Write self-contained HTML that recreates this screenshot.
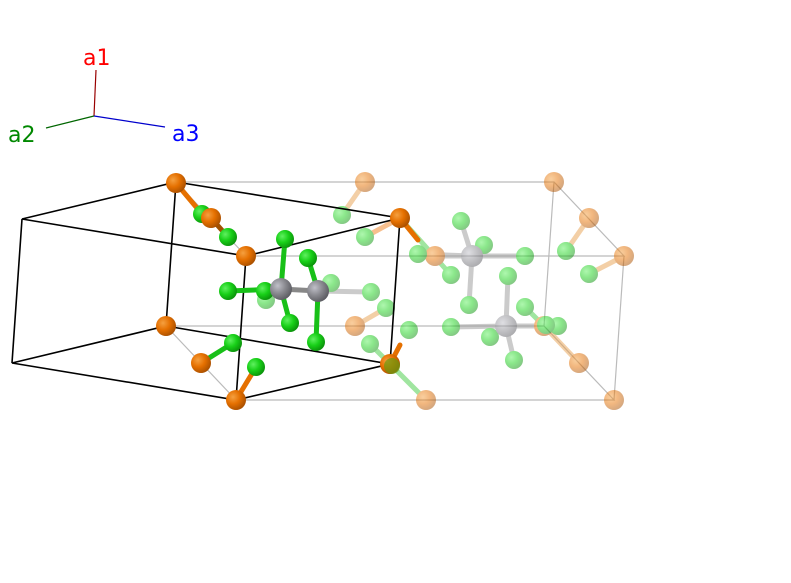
<!DOCTYPE html>
<html><head><style>html,body{margin:0;padding:0;background:#fff;width:791px;height:583px;overflow:hidden}</style></head>
<body>
<svg width="791" height="583" xmlns="http://www.w3.org/2000/svg">
<defs>
<radialGradient id="o" cx="35%" cy="35%" r="70%"><stop offset="0" stop-color="#f5a040"/><stop offset=".5" stop-color="#e57000"/><stop offset="1" stop-color="#a84f00"/></radialGradient>
<radialGradient id="g" cx="35%" cy="35%" r="70%"><stop offset="0" stop-color="#60f060"/><stop offset=".5" stop-color="#18d018"/><stop offset="1" stop-color="#0a900a"/></radialGradient>
<radialGradient id="k" cx="35%" cy="35%" r="70%"><stop offset="0" stop-color="#c0c0c8"/><stop offset=".5" stop-color="#8a8a90"/><stop offset="1" stop-color="#5a5a60"/></radialGradient>
</defs>
<line x1="94" y1="116" x2="96" y2="70" stroke="#900" stroke-width="1.2"/>
<line x1="94" y1="116" x2="46" y2="128" stroke="#060" stroke-width="1.2"/>
<line x1="94" y1="116" x2="165" y2="127" stroke="#00c" stroke-width="1.2"/>
<g font-family="DejaVu Sans, Liberation Sans, sans-serif" font-size="22">
<text x="83" y="65" fill="#f00">a1</text>
<text x="8" y="142" fill="#080">a2</text>
<text x="172" y="141" fill="#00f">a3</text>
</g>
<g stroke="#bbb" stroke-width="1.2" fill="none">
<path d="M176,182 L554,182 L624,256 L246,256 M166,326 L544,326 L614,400 L236,400 M554,182 L544,326 M624,256 L614,400 M176,182 L246,256 M166,326 L236,400"/>
</g>
<g opacity="0.5">
<g stroke-width="5" stroke-linecap="round">
<line x1="365" y1="182" x2="342" y2="215" stroke="#e8a050"/>
<line x1="400" y1="218" x2="365" y2="237" stroke="#f08020"/>
<line x1="589" y1="218" x2="566" y2="251" stroke="#e8a050"/>
<line x1="624" y1="256" x2="589" y2="274" stroke="#e8a050"/>
<line x1="355" y1="326" x2="386" y2="308" stroke="#e8a050"/>
<line x1="472" y1="256" x2="418" y2="254" stroke="#999"/>
<line x1="472" y1="256" x2="525" y2="256" stroke="#999"/>
<line x1="472" y1="256" x2="461" y2="221" stroke="#999"/>
<line x1="472" y1="256" x2="484" y2="245" stroke="#999"/>
<line x1="472" y1="256" x2="469" y2="305" stroke="#999"/>
<line x1="472" y1="256" x2="435" y2="256" stroke="#999"/>
<line x1="506" y1="326" x2="451" y2="327" stroke="#999"/>
<line x1="506" y1="326" x2="508" y2="276" stroke="#999"/>
<line x1="506" y1="326" x2="490" y2="337" stroke="#999"/>
<line x1="506" y1="326" x2="514" y2="360" stroke="#999"/>
<line x1="506" y1="326" x2="558" y2="326" stroke="#999"/>
<line x1="544" y1="326" x2="579" y2="363" stroke="#e8a050"/>
<line x1="525" y1="307" x2="544" y2="326" stroke="#4c4"/>
<line x1="318" y1="291" x2="371" y2="292" stroke="#999"/>
<line x1="390" y1="364" x2="426" y2="400" stroke="#4c4"/>
<line x1="390" y1="364" x2="370" y2="344" stroke="#4c4"/>
<line x1="400" y1="218" x2="451" y2="275" stroke="#4c4"/>
</g>
<g fill="url(#o)">
<circle cx="365" cy="182" r="10"/><circle cx="554" cy="182" r="10"/><circle cx="589" cy="218" r="10"/><circle cx="624" cy="256" r="10"/><circle cx="355" cy="326" r="10"/><circle cx="579" cy="363" r="10"/><circle cx="426" cy="400" r="10"/><circle cx="614" cy="400" r="10"/><circle cx="435" cy="256" r="10"/><circle cx="544" cy="326" r="10"/>
</g>
<g fill="url(#g)">
<circle cx="342" cy="215" r="9"/><circle cx="365" cy="237" r="9"/><circle cx="461" cy="221" r="9"/><circle cx="484" cy="245" r="9"/><circle cx="418" cy="254" r="9"/><circle cx="525" cy="256" r="9"/><circle cx="451" cy="275" r="9"/><circle cx="469" cy="305" r="9"/><circle cx="508" cy="276" r="9"/><circle cx="371" cy="292" r="9"/><circle cx="386" cy="308" r="9"/><circle cx="409" cy="330" r="9"/><circle cx="451" cy="327" r="9"/><circle cx="490" cy="337" r="9"/><circle cx="525" cy="307" r="9"/><circle cx="558" cy="326" r="9"/><circle cx="514" cy="360" r="9"/><circle cx="566" cy="251" r="9"/><circle cx="589" cy="274" r="9"/><circle cx="370" cy="344" r="9"/><circle cx="331" cy="283" r="9"/><circle cx="266" cy="300" r="9"/><circle cx="546" cy="325" r="9"/>
</g>
<g fill="url(#k)"><circle cx="472" cy="256" r="11"/><circle cx="506" cy="326" r="11"/></g>
</g>
<g stroke="#000" stroke-width="1.6" fill="none">
<path d="M176,182 L400,218 L246,256 L22,219 Z M166,326 L390,364 L236,400 L12,363 Z M22,219 L12,363 M176,182 L166,326 M400,218 L390,364 M246,256 L236,400"/>
</g>
<g stroke-width="5" stroke-linecap="round">
<line x1="176" y1="183" x2="202" y2="214" stroke="#e57000"/>
<line x1="211" y1="218" x2="228" y2="237" stroke="#a05000"/>
<line x1="201" y1="363" x2="233" y2="343" stroke="#18c018"/>
<line x1="236" y1="400" x2="256" y2="367" stroke="#e57000"/>
<line x1="281" y1="289" x2="285" y2="239" stroke="#18c018"/>
<line x1="281" y1="289" x2="228" y2="291" stroke="#18c018"/>
<line x1="281" y1="289" x2="290" y2="323" stroke="#18c018"/>
<line x1="281" y1="289" x2="318" y2="291" stroke="#888"/>
<line x1="318" y1="291" x2="308" y2="258" stroke="#18c018"/>
<line x1="318" y1="291" x2="316" y2="342" stroke="#18c018"/>
<line x1="400" y1="218" x2="418" y2="240" stroke="#e57000"/>
<line x1="390" y1="364" x2="400" y2="345" stroke="#e57000"/>
</g>
<g fill="url(#g)">
<circle cx="202" cy="214" r="9"/><circle cx="228" cy="237" r="9"/><circle cx="285" cy="239" r="9"/><circle cx="308" cy="258" r="9"/><circle cx="228" cy="291" r="9"/><circle cx="265" cy="291" r="9"/><circle cx="290" cy="323" r="9"/><circle cx="316" cy="342" r="9"/><circle cx="233" cy="343" r="9"/><circle cx="256" cy="367" r="9"/>
</g>
<g fill="url(#k)"><circle cx="281" cy="289" r="11"/><circle cx="318" cy="291" r="11"/></g>
<g fill="url(#o)">
<circle cx="176" cy="183" r="10"/><circle cx="211" cy="218" r="10"/><circle cx="246" cy="256" r="10"/><circle cx="400" cy="218" r="10"/><circle cx="166" cy="326" r="10"/><circle cx="201" cy="363" r="10"/><circle cx="236" cy="400" r="10"/><circle cx="390" cy="364" r="10"/>
</g>
<circle cx="392" cy="366" r="8" fill="#6a9a10" opacity="0.7"/>
</svg>
</body></html>
